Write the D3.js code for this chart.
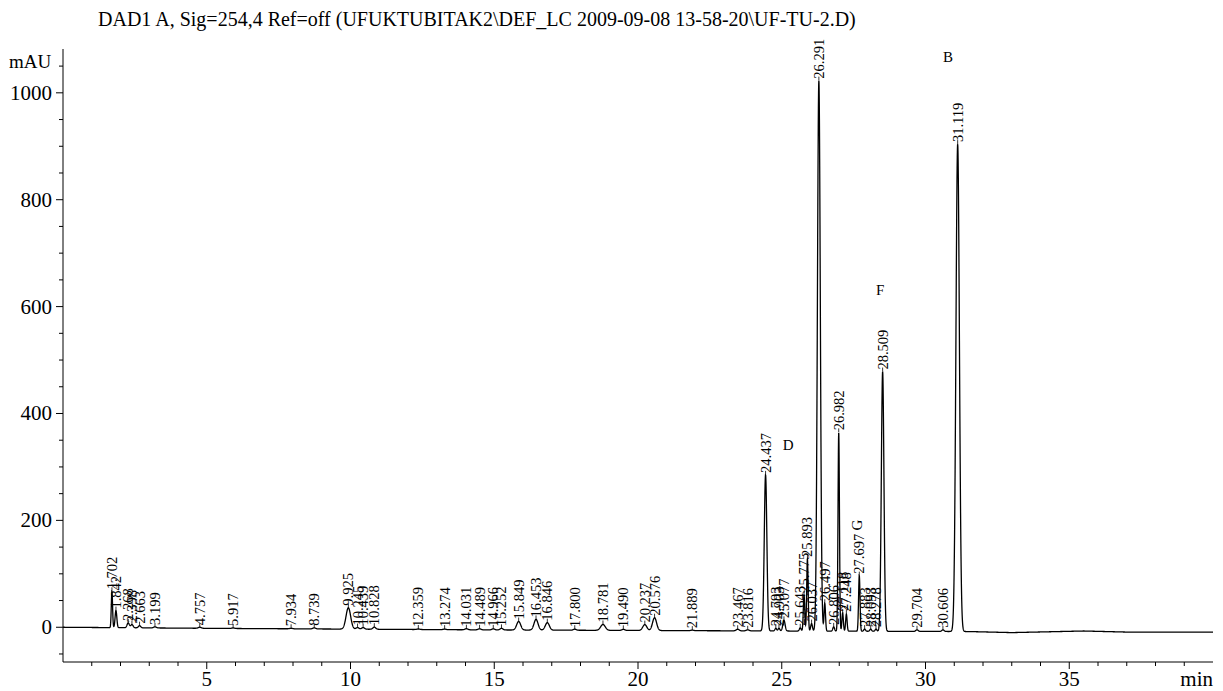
<!DOCTYPE html>
<html>
<head>
<meta charset="utf-8">
<script src="https://cdn.jsdelivr.net/npm/d3@7"></script>
<style>
  body { margin: 0; background: #fff; }
  svg, svg text { font-family: "Liberation Serif", "DejaVu Serif", serif; fill: #000; }
</style>
</head>
<body>
<svg id="chart"></svg>
<script>
var width = 1223;
var height = 691;
var serif = "'Liberation Serif', 'DejaVu Serif', serif";

// peak table: retention time (min), height (mAU), sigma (min)
var peakTimes   = [1.702, 1.842, 2.268, 2.398, 2.663, 3.199, 4.757, 5.917, 7.934, 8.739,
                   9.925, 10.245, 10.439, 10.828, 12.359, 13.274, 14.031, 14.489, 14.966, 15.252,
                   15.849, 16.453, 16.846, 17.800, 18.781, 19.490, 20.237, 20.576, 21.889, 23.467,
                   23.816, 24.437, 24.793, 24.903, 25.077, 25.643, 25.775, 25.893, 26.037, 26.291,
                   26.497, 26.806, 26.982, 27.118, 27.248, 27.697, 27.883, 28.093, 28.278, 28.509,
                   29.704, 30.606, 31.119];
var peakHeights = [68, 32, 9, 6, 4, 2, 2, 1, 1, 2,
                   40, 3, 3, 4, 1, 1, 2, 2, 2, 3,
                   16, 20, 14, 2, 11, 2, 11, 24, 1, 3,
                   2, 292, 5, 5, 20, 6, 68, 135, 14, 1030,
                   52, 8, 372, 34, 32, 104, 4, 4, 4, 486,
                   3, 3, 912];
var peakSigmas  = [0.022, 0.03, 0.04, 0.04, 0.04, 0.05, 0.05, 0.05, 0.05, 0.05,
                   0.08, 0.05, 0.05, 0.05, 0.05, 0.05, 0.05, 0.05, 0.05, 0.05,
                   0.07, 0.07, 0.07, 0.05, 0.08, 0.05, 0.07, 0.07, 0.05, 0.05,
                   0.05, 0.045, 0.03, 0.03, 0.04, 0.03, 0.025, 0.025, 0.03, 0.05,
                   0.025, 0.03, 0.025, 0.025, 0.025, 0.025, 0.03, 0.03, 0.03, 0.045,
                   0.04, 0.04, 0.06];

// baseline drift knots (min, mAU)
var driftTimes  = [0, 5, 15, 25, 31.5, 33, 35.5, 37, 40];
var driftValues = [0, -2, -5, -7, -8, -10, -7, -9, -9];

// letter annotations (min, mAU)
var noteText  = ["B", "F", "D", "G"];
var noteTimes = [30.78, 28.42, 25.22, 27.62];
var noteMau   = [1067, 631, 341, 191];
var noteTurn  = [false, false, false, true];

var xMajor = [5, 10, 15, 20, 25, 30, 35];
var yMajor = [0, 200, 400, 600, 800, 1000];

var title = "DAD1 A, Sig=254,4 Ref=off (UFUKTUBITAK2\\DEF_LC 2009-09-08 13-58-20\\UF-TU-2.D)";

var svg = d3.select('#chart')
    .attr('width', width)
    .attr('height', height)
    .attr('font-family', serif);

var x = d3.scaleLinear().domain([0, 40]).range([63, 1213]);
var y = d3.scaleLinear().domain([-65, 1082]).range([662, 49]);
var drift = d3.scaleLinear().domain(driftTimes).range(driftValues);

function signal(t) {
    var s = drift(t);
    for (var i = 0; i < peakTimes.length; i++) {
        var d = (t - peakTimes[i]) / peakSigmas[i];
        if (Math.abs(d) < 8) s += peakHeights[i] * Math.exp(-0.5 * d * d);
    }
    return s;
}

var trace = d3.range(0, 40.0001, 0.005).map(function(t) { return [t, signal(t)]; });

svg.append("text")
    .attr("x", 98)
    .attr("y", 26)
    .attr("font-family", serif)
    .attr("font-size", 20)
    .text(title);

// y axis
var yAxis = svg.append("g").attr("transform", "translate(" + x(0) + ",0)");
yAxis.append("line").attr("y1", y(-65)).attr("y2", y(1082)).attr("stroke", "#000");
yAxis.selectAll(".minor")
    .data(d3.range(-50, 1051, 50))
    .enter().append("line")
    .attr("x1", function(d) { return yMajor.indexOf(d) >= 0 ? -7 : -4; })
    .attr("x2", 0)
    .attr("y1", function(d) { return y(d); })
    .attr("y2", function(d) { return y(d); })
    .attr("stroke", "#000");
yAxis.selectAll(".lab")
    .data(yMajor)
    .enter().append("text")
    .attr("x", -11)
    .attr("y", function(d) { return y(d) + 7; })
    .attr("text-anchor", "end")
    .attr("font-family", serif)
    .attr("font-size", 21)
    .text(function(d) { return d; });
svg.append("text")
    .attr("x", 9)
    .attr("y", 68)
    .attr("font-family", serif)
    .attr("font-size", 19)
    .text("mAU");

// x axis
var xAxis = svg.append("g").attr("transform", "translate(0," + y(-65) + ")");
xAxis.append("line").attr("x1", x(0)).attr("x2", x(40)).attr("stroke", "#000");
xAxis.selectAll(".minor")
    .data(d3.range(1, 40, 1))
    .enter().append("line")
    .attr("x1", function(d) { return x(d); })
    .attr("x2", function(d) { return x(d); })
    .attr("y1", 0)
    .attr("y2", function(d) { return xMajor.indexOf(d) >= 0 ? 7 : 4; })
    .attr("stroke", "#000");
xAxis.selectAll(".lab")
    .data(xMajor)
    .enter().append("text")
    .attr("x", function(d) { return x(d); })
    .attr("y", 24)
    .attr("text-anchor", "middle")
    .attr("font-family", serif)
    .attr("font-size", 21)
    .text(function(d) { return d; });
xAxis.append("text")
    .attr("x", x(40))
    .attr("y", 24)
    .attr("text-anchor", "end")
    .attr("font-family", serif)
    .attr("font-size", 21)
    .text("min");

// chromatogram
var line = d3.line()
    .x(function(d) { return x(d[0]); })
    .y(function(d) { return y(d[1]); });

svg.append("path")
    .datum(trace)
    .attr("d", line)
    .attr("fill", "none")
    .attr("stroke", "#000")
    .attr("stroke-width", 1.3);

// retention time labels
var labels = svg.append("g");
peakTimes.forEach(function(t) {
    var top = y(signal(t));
    labels.append("line")
        .attr("x1", x(t)).attr("x2", x(t))
        .attr("y1", top).attr("y2", top - 4)
        .attr("stroke", "#000").attr("stroke-width", 0.8);
    labels.append("text")
        .attr("transform", "translate(" + (x(t) + 5) + "," + (top - 2) + ") rotate(-90)")
        .attr("font-family", serif)
        .attr("font-size", 14.5)
        .text(t.toFixed(3));
});

noteText.forEach(function(s, i) {
    var px = x(noteTimes[i]), py = y(noteMau[i]);
    svg.append("text")
        .attr("transform", "translate(" + px + "," + py + ")" + (noteTurn[i] ? " rotate(-90)" : ""))
        .attr("text-anchor", "middle")
        .attr("dy", "0.35em")
        .attr("font-family", serif)
        .attr("font-size", 15)
        .text(s);
});
</script>
</body>
</html>
